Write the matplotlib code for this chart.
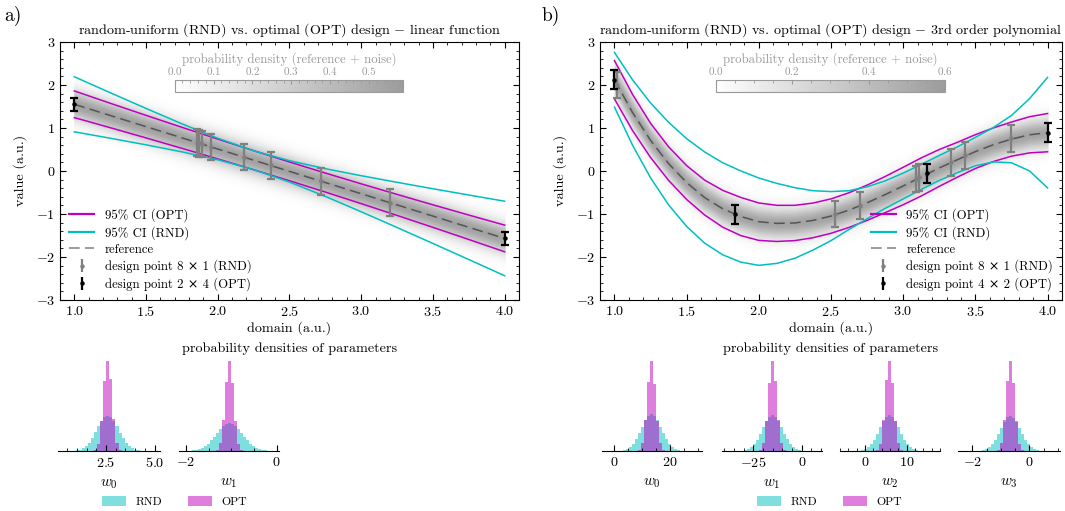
import numpy as np
import matplotlib
matplotlib.use("Agg")
import matplotlib.pyplot as plt
from matplotlib.colors import LinearSegmentedColormap, Normalize
from matplotlib.cm import ScalarMappable
from matplotlib.patches import Patch
from matplotlib.lines import Line2D
from matplotlib.ticker import MultipleLocator

plt.rcParams['font.family'] = ['cmr10', 'DejaVu Serif']
plt.rcParams['mathtext.fontset'] = 'cm'
plt.rcParams['axes.formatter.use_mathtext'] = True

# ---- panel a) linear function ----
x_a = [1.0, 1.25, 1.5, 1.75, 2.0, 2.25, 2.5, 2.75, 3.0, 3.25, 3.5, 3.75, 4.0]
ref_a = [1.55, 1.29, 1.03, 0.77, 0.51, 0.25, -0.01, -0.27, -0.53, -0.79, -1.05, -1.31, -1.57]
opt_hw_a = [0.31, 0.284, 0.262, 0.244, 0.230, 0.221, 0.218, 0.221, 0.230, 0.244, 0.262, 0.284, 0.31]
rnd_hw_a = [0.640, 0.529, 0.423, 0.326, 0.250, 0.218, 0.248, 0.322, 0.419, 0.525, 0.636, 0.750, 0.866]
rnd_x_a = [1.856, 1.872, 1.888, 1.954, 2.186, 2.368, 2.717, 3.198]
rnd_y_a = [0.66, 0.64, 0.63, 0.56, 0.32, 0.13, -0.24, -0.74]
opt_x_a = [1.0, 4.0]
opt_y_a = [1.55, -1.57]
opt_err_a = 0.155

# ---- panel b) 3rd order polynomial ----
x_b = [1.0, 1.125, 1.25, 1.375, 1.5, 1.625, 1.75, 1.875, 2.0, 2.125, 2.25, 2.375, 2.5,
       2.625, 2.75, 2.875, 3.0, 3.125, 3.25, 3.375, 3.5, 3.625, 3.75, 3.875, 4.0]
ref_b = [2.12, 1.36, 0.71, 0.17, -0.27, -0.62, -0.88, -1.06, -1.18, -1.22, -1.21, -1.15, -1.05,
         -0.91, -0.74, -0.55, -0.35, -0.14, 0.07, 0.26, 0.45, 0.61, 0.74, 0.84, 0.89]
opt_hw_b = [0.445, 0.42, 0.397, 0.39, 0.393, 0.405, 0.428, 0.443, 0.435, 0.42, 0.41, 0.403, 0.40,
            0.403, 0.41, 0.42, 0.435, 0.443, 0.428, 0.405, 0.393, 0.39, 0.397, 0.42, 0.445]
rnd_hw_b = [0.635, 0.76, 0.87, 0.96, 1.02, 1.06, 1.07, 1.06, 1.015, 0.93, 0.82, 0.69, 0.57,
            0.45, 0.37, 0.32, 0.30, 0.29, 0.29, 0.30, 0.33, 0.40, 0.55, 0.84, 1.285]
rnd_x_b = [1.02, 2.53, 2.70, 3.09, 3.11, 3.33, 3.43, 3.75]
rnd_y_b = [2.0, -1.0, -0.81, -0.19, -0.15, 0.20, 0.36, 0.76]
opt_x_b = [1.0, 1.832, 3.168, 4.0]
opt_y_b = [2.12, -1.01, -0.05, 0.89]
opt_err_b = 0.22

rnd_err = 0.31
noise_sigma = 0.24
cbar_max_a = 0.587
cbar_max_b = 0.6

# ---- parameter histograms (bar heights, bin width, centre of middle bin) ----
hist_a_w0_rnd = [0.001, 0.003, 0.007, 0.016, 0.031, 0.056, 0.094, 0.145, 0.207, 0.273, 0.333, 0.375, 0.390,
                 0.378, 0.330, 0.275, 0.205, 0.147, 0.092, 0.057, 0.030, 0.016, 0.007, 0.003, 0.001]
hist_a_w0_opt = [0.01, 0.08, 0.33, 0.78, 1.0, 0.80, 0.36, 0.09, 0.015]
hist_a_w1_rnd = [0.002, 0.003, 0.006, 0.012, 0.021, 0.035, 0.055, 0.082, 0.117, 0.158, 0.201, 0.243, 0.278, 0.302, 0.310,
                 0.300, 0.280, 0.241, 0.203, 0.156, 0.119, 0.080, 0.056, 0.034, 0.021, 0.012, 0.006, 0.003, 0.002]
hist_a_w1_opt = [0.012, 0.09, 0.35, 0.77, 1.0, 0.76, 0.33, 0.08, 0.01]
hist_b_w0_rnd = [0.002, 0.004, 0.010, 0.022, 0.043, 0.079, 0.130, 0.197, 0.271, 0.341, 0.392, 0.410,
                 0.390, 0.343, 0.270, 0.198, 0.128, 0.080, 0.042, 0.022, 0.010, 0.004, 0.002]
hist_b_w0_opt = [0.01, 0.09, 0.34, 0.77, 1.0, 0.75, 0.33, 0.085, 0.012]
hist_b_w1_rnd = [0.002, 0.004, 0.010, 0.021, 0.042, 0.077, 0.127, 0.192, 0.264, 0.333, 0.382, 0.400,
                 0.383, 0.331, 0.266, 0.190, 0.128, 0.076, 0.043, 0.021, 0.010, 0.004, 0.002]
hist_b_w1_opt = [0.012, 0.085, 0.33, 0.76, 1.0, 0.78, 0.34, 0.09, 0.01]
hist_b_w2_rnd = [0.002, 0.004, 0.010, 0.021, 0.042, 0.077, 0.127, 0.192, 0.264, 0.333, 0.382, 0.400,
                 0.381, 0.334, 0.263, 0.193, 0.126, 0.078, 0.042, 0.021, 0.010, 0.004, 0.002]
hist_b_w2_opt = [0.01, 0.08, 0.34, 0.79, 1.0, 0.76, 0.33, 0.085, 0.012]
hist_b_w3_rnd = [0.002, 0.004, 0.009, 0.021, 0.041, 0.075, 0.124, 0.187, 0.258, 0.325, 0.373, 0.390,
                 0.372, 0.326, 0.257, 0.188, 0.123, 0.076, 0.041, 0.021, 0.009, 0.004, 0.002]
hist_b_w3_opt = [0.012, 0.09, 0.35, 0.78, 1.0, 0.76, 0.33, 0.08, 0.01]

hist_width = {'a0': 0.155, 'a1': 0.066, 'b0': 1.07, 'b1': 1.55, 'b2': 0.72, 'b3': 0.105}
hist_center = {'a0': 2.6, 'a1': -1.04, 'b0': 13.5, 'b1': -15.3, 'b2': 5.8, 'b3': -0.66}

C_OPT = 'm'
C_RND = 'c'
GRAY_TXT = '#9a9a9a'
FS = 10.2

fig = plt.figure(figsize=(10.65, 5.11), dpi=100)
band_cmap = LinearSegmentedColormap.from_list('band', ['white', '#9c9c9c'])


def style_axes(ax):
    ax.set_xlim(0.9, 4.1)
    ax.set_ylim(-3, 3)
    ax.xaxis.set_major_locator(MultipleLocator(0.5))
    ax.xaxis.set_minor_locator(MultipleLocator(0.1))
    ax.yaxis.set_major_locator(MultipleLocator(1))
    ax.yaxis.set_minor_locator(MultipleLocator(0.2))
    ax.tick_params(which='both', direction='in', top=True, right=True, labelsize=FS)
    ax.tick_params(which='major', length=4)
    ax.tick_params(which='minor', length=2)
    ax.set_xlabel('domain (a.u.)', fontsize=FS, labelpad=2)
    ax.set_ylabel('value (a.u.)', fontsize=FS, labelpad=6)


def main_panel(pos, x, ref, opt_hw, rnd_hw, rnd_x, rnd_y, opt_x, opt_y, opt_err,
               vmax, cticks, cminor, title, opt_label, legend_loc):
    ax = fig.add_axes(pos)
    x = np.array(x)
    ref = np.array(ref)
    opt_hw = np.array(opt_hw)
    rnd_hw = np.array(rnd_hw)
    norm = Normalize(0, vmax)
    peak = 1.0 / (3 * noise_sigma * np.sqrt(2 * np.pi))
    for d in np.linspace(3.2 * noise_sigma, 0.01, 45):
        dens = peak * np.exp(-0.5 * (d / noise_sigma) ** 2)
        ax.fill_between(x, ref - d, ref + d, color=band_cmap(norm(dens)), lw=0, zorder=1)

    ax.plot(x, ref + opt_hw, color=C_OPT, lw=1.1, zorder=3)
    ax.plot(x, ref - opt_hw, color=C_OPT, lw=1.1, zorder=3)
    ax.plot(x, ref + rnd_hw, color=C_RND, lw=1.1, zorder=3)
    ax.plot(x, ref - rnd_hw, color=C_RND, lw=1.1, zorder=3)
    ax.plot(x, ref, color='#555555', lw=1.1, ls=(0, (7, 3.5)), zorder=4)
    eb = dict(fmt='o', ms=2.2, elinewidth=1.6, capsize=3, capthick=1.6)
    ax.errorbar(rnd_x, rnd_y, yerr=rnd_err, color='gray', zorder=5, **eb)
    ax.errorbar(opt_x, opt_y, yerr=opt_err, color='k', zorder=6, **eb)
    style_axes(ax)
    ax.set_title(title, fontsize=FS, pad=6)

    handles = [Line2D([], [], color=C_OPT, lw=1.6),
               Line2D([], [], color=C_RND, lw=1.6),
               Line2D([], [], color='gray', lw=1.1, ls=(0, (7, 3.5))),
               ax.errorbar([], [], yerr=[], color='gray', **eb),
               ax.errorbar([], [], yerr=[], color='k', **eb)]
    labels = ['95% CI (OPT)', '95% CI (RND)', 'reference',
              'design point 8 × 1 (RND)', opt_label]
    ax.legend(handles, labels, loc=legend_loc, frameon=False, fontsize=9.2,
              labelspacing=0.3, handlelength=2.0, borderaxespad=0.3)

    cax = ax.inset_axes([0.25, 0.806, 0.497, 0.047])
    cb = fig.colorbar(ScalarMappable(norm=norm, cmap=band_cmap), cax=cax, orientation='horizontal')
    cax.xaxis.set_ticks_position('top')
    cax.xaxis.set_label_position('top')
    cb.set_label('probability density (reference + noise)', color=GRAY_TXT, fontsize=9.2, labelpad=2)
    cb.outline.set_edgecolor(GRAY_TXT)
    cax.xaxis.set_major_locator(MultipleLocator(cticks))
    cax.xaxis.set_minor_locator(MultipleLocator(cminor))
    cax.tick_params(which='both', direction='in', colors=GRAY_TXT, labelsize=8.0,
                    top=True, bottom=False, pad=2)
    cax.tick_params(which='major', length=3)
    cax.tick_params(which='minor', length=1.8)
    return ax


main_panel([0.0563, 0.413, 0.431, 0.505], x_a, ref_a, opt_hw_a, rnd_hw_a, rnd_x_a, rnd_y_a,
           opt_x_a, opt_y_a, opt_err_a, cbar_max_a, 0.1, 0.02,
           r'random-uniform (RND) vs. optimal (OPT) design $-$ linear function',
           'design point 2 × 4 (OPT)', 'lower left')
main_panel([0.5634, 0.413, 0.4338, 0.505], x_b, ref_b, opt_hw_b, rnd_hw_b, rnd_x_b, rnd_y_b,
           opt_x_b, opt_y_b, opt_err_b, cbar_max_b, 0.2, 0.05,
           r'random-uniform (RND) vs. optimal (OPT) design $-$ 3rd order polynomial',
           'design point 4 × 2 (OPT)', 'lower right')


def hist_panel(pos, key, rnd, opt, xlim, major, minor, label):
    ax = fig.add_axes(pos)
    w = hist_width[key]
    c = hist_center[key]
    xr = c + (np.arange(len(rnd)) - len(rnd) // 2) * w
    xo = c + (np.arange(len(opt)) - len(opt) // 2) * w
    ax.bar(xr, rnd, width=w, color=C_RND, alpha=0.5, lw=0)
    ax.bar(xo, opt, width=w, color=C_OPT, alpha=0.5, lw=0)
    ax.set_xlim(*xlim)
    ax.set_ylim(0, 1.0)
    for s in ['top', 'left', 'right']:
        ax.spines[s].set_visible(False)
    ax.set_yticks([])
    ax.xaxis.set_major_locator(MultipleLocator(major))
    ax.xaxis.set_minor_locator(MultipleLocator(minor))
    ax.tick_params(which='both', direction='in', labelsize=FS)
    ax.tick_params(which='major', length=4)
    ax.tick_params(which='minor', length=2)
    ax.set_xlabel(label, fontsize=11, labelpad=5)


hb, hh = 0.1174, 0.176
hist_panel([0.0547, hb, 0.0955, hh], 'a0', hist_a_w0_rnd, hist_a_w0_opt, (0.05, 5.27), 2.5, 0.5, r'$w_0$')
hist_panel([0.1681, hb, 0.0942, hh], 'a1', hist_a_w1_rnd, hist_a_w1_opt, (-2.15, 0.06), 2, 0.5, r'$w_1$')
hist_panel([0.5650, hb, 0.0945, hh], 'b0', hist_b_w0_rnd, hist_b_w0_opt, (-4.4, 31.5), 20, 5, r'$w_0$')
hist_panel([0.6777, hb, 0.0939, hh], 'b1', hist_b_w1_rnd, hist_b_w1_opt, (-41.3, 10.3), 25, 5, r'$w_1$')
hist_panel([0.7887, hb, 0.0939, hh], 'b2', hist_b_w2_rnd, hist_b_w2_opt, (-6.0, 18.0), 10, 2, r'$w_2$')
hist_panel([0.8998, hb, 0.0958, hh], 'b3', hist_b_w3_rnd, hist_b_w3_opt, (-2.49, 1.08), 2, 0.5, r'$w_3$')

for cx in [0.272, 0.780]:
    fig.text(cx, 0.318, 'probability densities of parameters', ha='center', va='center', fontsize=FS)

hist_handles = [Patch(color=C_RND, alpha=0.5, lw=0), Patch(color=C_OPT, alpha=0.5, lw=0)]
for cx in [0.164, 0.779]:
    fig.legend(hist_handles, ['RND', 'OPT'], loc='center', bbox_to_anchor=(cx, 0.019), ncol=2,
               frameon=False, fontsize=8.5, handlelength=2.0, handleheight=0.9, columnspacing=2.2)

fig.text(0.004, 0.968, 'a)', fontsize=14, va='center')
fig.text(0.508, 0.968, 'b)', fontsize=14, va='center')

fig.savefig('out.png', dpi=100)
